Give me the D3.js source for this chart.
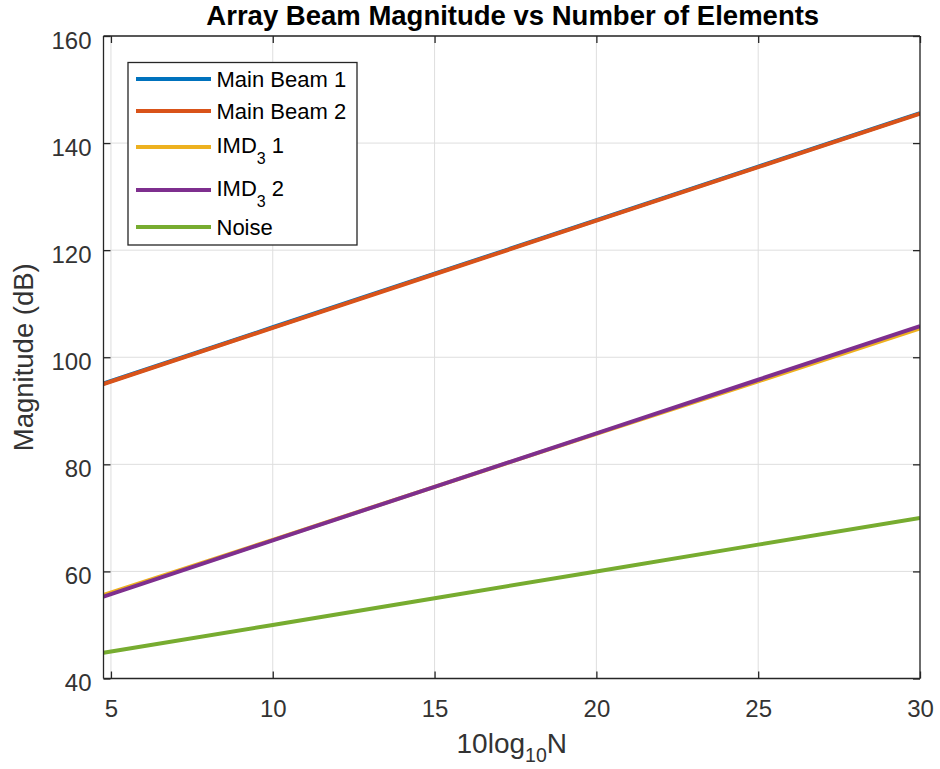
<!DOCTYPE html>
<html>
<head>
<meta charset="utf-8">
<script src="https://cdn.jsdelivr.net/npm/d3@7"></script>
<style>
  html, body { margin: 0; padding: 0; background: #fff; }
  svg { display: block; font-family: "Liberation Sans", Arial, Helvetica, sans-serif; }
</style>
</head>
<body>
<svg id="chart" width="940" height="769"></svg>
<script>
// Array size on a dB scale (10log10 N), N from 3 to 1000
const xValues = [4.77, 10, 15, 20, 25, 30];

// Series levels in dB at each xValue
const mainBeam1 = [95.1, 105.6, 115.6, 125.6, 135.6, 145.6];
const mainBeam2 = [95.0, 105.5, 115.5, 125.5, 135.5, 145.5];
const imd3One   = [55.6, 65.9, 75.8, 85.7, 95.5, 105.4];
const imd3Two   = [55.3, 65.8, 75.8, 85.8, 95.8, 105.8];
const noise     = [44.8, 50.0, 55.0, 60.0, 65.0, 70.0];

const seriesNames = ["Main Beam 1", "Main Beam 2", "IMD3 1", "IMD3 2", "Noise"];
const seriesData = [mainBeam1, mainBeam2, imd3One, imd3Two, noise];
const seriesColors = ["#0072BD", "#D95319", "#EDB120", "#7E2F8E", "#77AC30"];

const xTicks = [5, 10, 15, 20, 25, 30];
const yTicks = [40, 60, 80, 100, 120, 140, 160];

const svg = d3.select("#chart");
const L = 103.5, R = 920, T = 36, B = 678.5;

const x = d3.scaleLinear().domain([4.77, 30]).range([L, R]);
const y = d3.scaleLinear().domain([40, 160]).range([B, T]);

const axisColor = "#262626";
const textColor = "#333";
const tickLen = 7;

// grid
const grid = svg.append("g");
grid.selectAll(".gx").data(xTicks).join("line")
  .attr("x1", d => x(d)).attr("x2", d => x(d)).attr("y1", T).attr("y2", B)
  .attr("stroke", "#dedede").attr("stroke-width", 1);
grid.selectAll(".gy").data(yTicks).join("line")
  .attr("x1", L).attr("x2", R).attr("y1", d => y(d)).attr("y2", d => y(d))
  .attr("stroke", "#dedede").attr("stroke-width", 1);

// series lines
const line = d3.line().x((d, i) => x(xValues[i])).y(d => y(d));
svg.append("clipPath").attr("id", "plotclip")
  .append("rect").attr("x", L).attr("y", T).attr("width", R - L).attr("height", B - T);
svg.append("g").attr("clip-path", "url(#plotclip)")
  .selectAll("path").data(seriesData).join("path")
  .attr("d", d => line(d))
  .attr("fill", "none")
  .attr("stroke", (d, i) => seriesColors[i])
  .attr("stroke-width", 4)
  .attr("stroke-linejoin", "round");

// axes (box with inward ticks on all four sides)
const fmt = d3.format("d");
const bottomAxis = d3.axisBottom(x).tickValues(xTicks).tickSize(-tickLen).tickPadding(21).tickFormat(fmt);
const topAxis = d3.axisTop(x).tickValues(xTicks).tickSize(-tickLen).tickFormat("");
const leftAxis = d3.axisLeft(y).tickValues(yTicks).tickSize(-tickLen).tickPadding(12).tickFormat(fmt);
const rightAxis = d3.axisRight(y).tickValues(yTicks).tickSize(-tickLen).tickFormat("");

function styleAxis(g) {
  g.select(".domain").attr("stroke", axisColor).attr("stroke-width", 1.3);
  g.selectAll(".tick line").attr("stroke", axisColor).attr("stroke-width", 1.3);
  g.selectAll(".tick text").attr("fill", textColor).attr("font-size", 24)
    .attr("font-family", "'Liberation Sans', Arial, sans-serif");
}
svg.append("g").attr("transform", `translate(0,${B})`).call(bottomAxis).call(styleAxis)
  .call(g => g.select(".domain").attr("d", `M${L},0H${R}`));
svg.append("g").attr("transform", `translate(0,${T})`).call(topAxis).call(styleAxis)
  .call(g => g.select(".domain").attr("d", `M${L},0H${R}`));
svg.append("g").attr("transform", `translate(${L},0)`).call(leftAxis).call(styleAxis)
  .call(g => g.select(".domain").attr("d", `M0,${T}V${B}`))
  .call(g => g.selectAll(".tick text").attr("dy", "0.5em"));
svg.append("g").attr("transform", `translate(${R},0)`).call(rightAxis).call(styleAxis)
  .call(g => g.select(".domain").attr("d", `M0,${T}V${B}`));

// title
svg.append("text")
  .attr("x", (L + R) / 2 + 1).attr("y", 25)
  .attr("text-anchor", "middle")
  .attr("font-size", 27.5).attr("font-weight", "bold").attr("fill", "#000")
  .text("Array Beam Magnitude vs Number of Elements");

// x label: 10log10N
const xl = svg.append("text")
  .attr("x", (L + R) / 2).attr("y", 753)
  .attr("text-anchor", "middle")
  .attr("font-size", 28).attr("fill", textColor);
xl.append("tspan").text("10log");
xl.append("tspan").attr("font-size", 19.5).attr("dy", 9).text("10");
xl.append("tspan").attr("dy", -9).text("N");

// y label
svg.append("text")
  .attr("transform", `translate(33,${(T + B) / 2}) rotate(-90)`)
  .attr("text-anchor", "middle")
  .attr("font-size", 27.5).attr("fill", textColor)
  .text("Magnitude (dB)");

// legend
const leg = svg.append("g");
leg.append("rect")
  .attr("x", 128).attr("y", 62.5).attr("width", 229).attr("height", 182.5)
  .attr("fill", "#fff").attr("stroke", axisColor).attr("stroke-width", 1.3);
const rowY = [79, 111, 147, 190, 227];
seriesNames.forEach((name, i) => {
  const yy = rowY[i];
  leg.append("line")
    .attr("x1", 136).attr("x2", 211).attr("y1", yy).attr("y2", yy)
    .attr("stroke", seriesColors[i]).attr("stroke-width", 4);
  const m = name.match(/^IMD3 (\d)$/);
  const t = leg.append("text")
    .attr("x", 216.5).attr("y", m ? yy + 6 : yy + 8)
    .attr("font-size", 22).attr("fill", "#000");
  if (m) {
    t.append("tspan").text("IMD");
    t.append("tspan").attr("font-size", 16).attr("dy", 11).text("3");
    t.append("tspan").attr("dy", -11).text(" " + m[1]);
  } else {
    t.text(name);
  }
});
</script>
</body>
</html>
